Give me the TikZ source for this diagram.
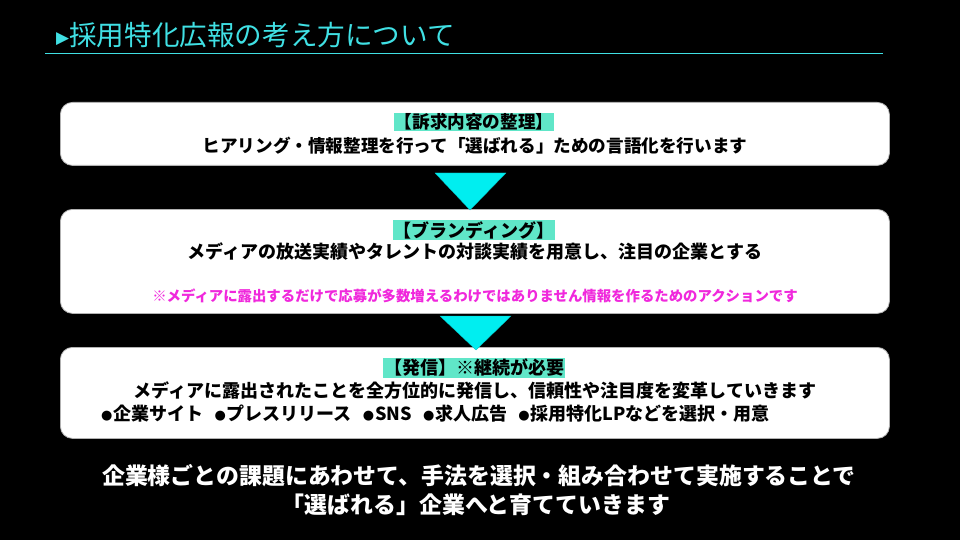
\documentclass[tikz,border=0pt]{standalone}
\usepackage{fontspec}
\setmainfont{Noto Sans CJK JP}
\newfontfamily\dv{DejaVu Sans}
\definecolor{titlec}{RGB}{64,224,228}
\definecolor{hlc}{RGB}{96,230,200}
\definecolor{tric}{RGB}{0,238,240}
\definecolor{pinkc}{RGB}{240,40,220}
\newcommand{\fs}[1]{\fontsize{#1}{#1}\selectfont}
\newcommand{\bul}{\raisebox{1.5pt}{\dv\fs{13}●}\hspace{1pt}}
\tikzset{
  panel/.style={draw=gray!60, fill=white, rounded corners=12pt, line width=0.8pt, anchor=north west, inner sep=0pt},
  head/.style={fill=hlc, inner sep=1pt, font=\bfseries\fs{17.6}},
  body/.style={inner sep=0pt, font=\bfseries\fs{17.6}},
  note/.style={inner sep=0pt, text=pinkc, font=\bfseries\fs{14.4}},
  tri/.style={fill=tric, draw=tric!80!black, line width=0.3pt},
  foot/.style={inner sep=0pt, text=white, font=\bfseries\fs{22.9}},
}
\begin{document}
\begin{tikzpicture}[x=1pt,y=-1pt]
\fill[black] (0,0) rectangle (960,540);
\useasboundingbox (0,0) rectangle (960,540);
% title
\node[anchor=west, inner sep=0pt, text=titlec] (title) at (56,35) {\raisebox{2pt}{\dv\fs{17}▶}{\fs{27.6}採用特化広報の考え方について}};
\coordinate (ruleL) at (45,53);
\coordinate (ruleR) at (883,53);
\draw[titlec, line width=0.8pt] (ruleL) -- (ruleR);
% panels
\node[panel, minimum width=829pt, minimum height=63pt] (b1) at (60,102) {};
\node[panel, minimum width=829pt, minimum height=104pt] (b2) at (60,209) {};
\node[panel, minimum width=829pt, minimum height=91pt] (b3) at (60,347) {};
% arrows
\coordinate (a1l) at (435,173); \coordinate (a1r) at (506,173); \coordinate (a1t) at (470,210);
\fill[tri] (a1l) -- (a1r) -- (a1t) -- cycle;
\coordinate (a2l) at (440,316); \coordinate (a2r) at (511,316); \coordinate (a2t) at (476,350);
\fill[tri] (a2l) -- (a2r) -- (a2t) -- cycle;
% box 1
\node[head] (h1) at (474,122) {【訴求内容の整理】};
\node[body] (t1) at (475,146) {ヒアリング・情報整理を行って「選ばれる」ための言語化を行います};
% box 2
\node[head, font=\bfseries\fs{18}] (h2) at (474,230) {【ブランディング】};
\node[body, font=\bfseries\fs{18}] (t2) at (475,252) {メディアの放送実績やタレントの対談実績を用意し、注目の企業とする};
\node[note] (n2) at (475,296) {※メディアに露出するだけで応募が多数増えるわけではありません情報を作るためのアクションです};
% box 3
\node[head, font=\bfseries\fs{18}] (h3) at (474,368) {【発信】※継続が必要};
\node[body, font=\bfseries\fs{18}] (t3) at (475,391) {メディアに露出されたことを全方位的に発信し、信頼性や注目度を変革していきます};
\node[body, font=\bfseries\fs{18}, anchor=west] (t4) at (101,414) {\bul 企業サイト\hspace{11pt}\bul プレスリリース\hspace{11pt}\bul SNS\hspace{11pt}\bul 求人広告\hspace{11pt}\bul 採用特化LPなどを選択・用意};
% footer
\node[foot] (f1) at (479,476) {企業様ごとの課題にあわせて、手法を選択・組み合わせて実施することで};
\node[foot] (f2) at (476,505) {「選ばれる」企業へと育てていきます};
\end{tikzpicture}
\end{document}
